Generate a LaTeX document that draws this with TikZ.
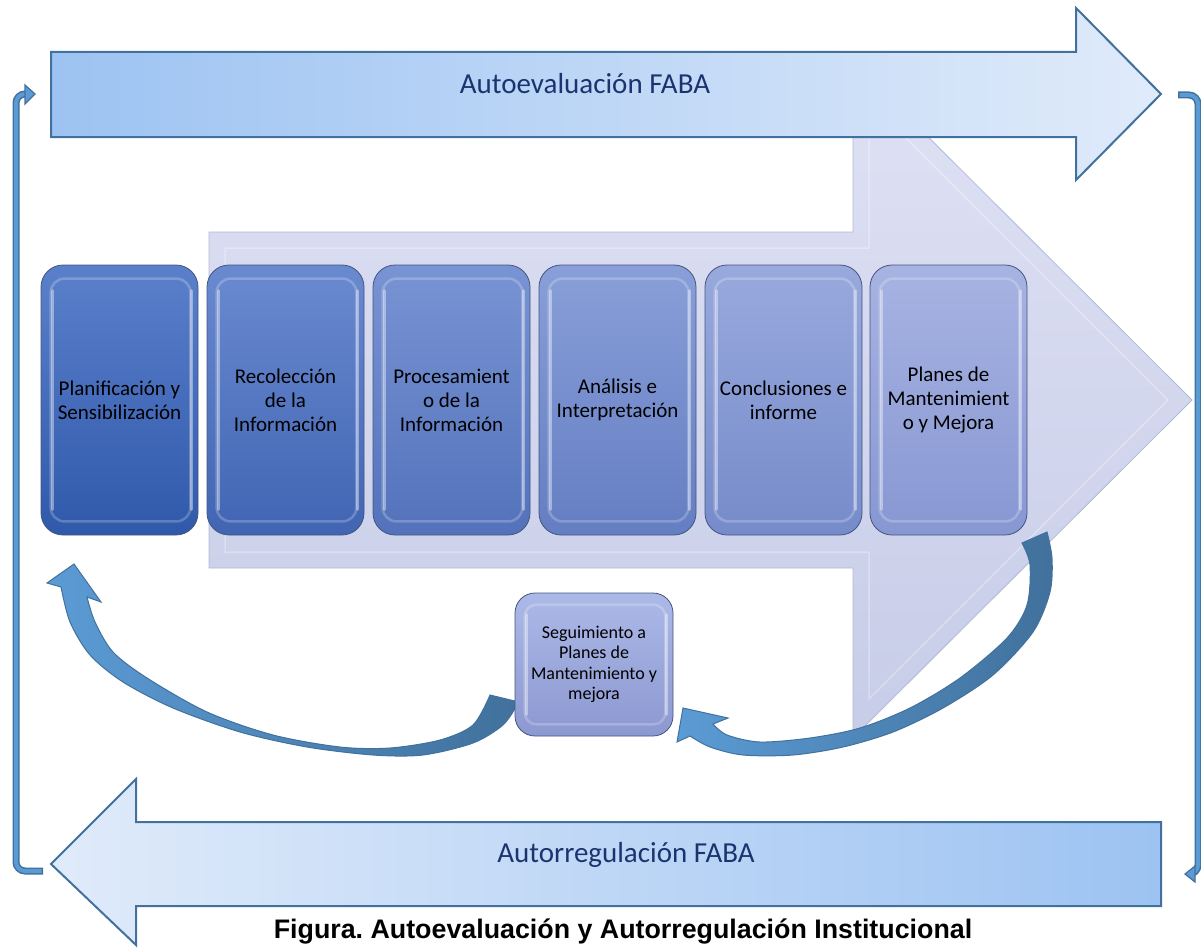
\documentclass[tikz,border=0pt]{standalone}
\usepackage{fontspec}
\setmainfont{Carlito}
\newfontfamily\capfont{Liberation Sans}
\usetikzlibrary{calc}
\definecolor{edgeblue}{HTML}{41719C}
\definecolor{midblue}{HTML}{5B9BD5}
\definecolor{navytxt}{HTML}{1B3470}
\definecolor{arrowdark}{HTML}{9DC3F2}
\definecolor{arrowlight}{HTML}{E0EBFA}
\definecolor{lavtop}{HTML}{DFE2F4}
\definecolor{lavbot}{HTML}{C7CCE8}
\definecolor{lavedge}{HTML}{B4B9D4}
\definecolor{boxedge}{HTML}{45557F}
\definecolor{btA}{RGB}{91,128,203}\definecolor{bbA}{RGB}{48,89,171}
\definecolor{btB}{RGB}{106,138,208}\definecolor{bbB}{RGB}{65,101,179}
\definecolor{btC}{RGB}{121,148,212}\definecolor{bbC}{RGB}{83,114,187}
\definecolor{btD}{RGB}{137,159,217}\definecolor{bbD}{RGB}{100,126,194}
\definecolor{btE}{RGB}{152,169,221}\definecolor{bbE}{RGB}{118,139,202}
\definecolor{btF}{RGB}{167,179,226}\definecolor{bbF}{RGB}{135,151,210}
\definecolor{segtop}{RGB}{172,185,232}\definecolor{segbot}{RGB}{140,152,208}
\tikzset{
  bigarrow/.style={draw=edgeblue, line width=2pt, line join=miter},
  procbox/.style={rounded corners=22pt, minimum width=157pt, minimum height=270pt,
    draw=boxedge, line width=0.8pt, align=flush center, text width=150pt, inner sep=0pt,
    font=\fontsize{21}{24}\selectfont},
  segbox/.style={rounded corners=20pt, minimum width=158pt, minimum height=143pt,
    draw=boxedge, line width=0.8pt, align=flush center, text width=150pt, inner sep=0pt,
    font=\fontsize{18}{20.5}\selectfont},
  gloss/.style={draw=white, draw opacity=0.22, line width=2.5pt, rounded corners=14pt},
  glossbar/.style={draw=white, draw opacity=0.4, line width=3pt, line cap=round},
  bracketout/.style={draw=edgeblue, line width=7pt, rounded corners=9pt},
  bracketin/.style={draw=midblue, line width=4pt, rounded corners=9pt},
  brackethead/.style={fill=midblue, draw=edgeblue, line width=1.2pt, line join=miter},
  curvarrow/.style={left color=midblue, right color=edgeblue, draw=edgeblue, line width=1pt},
  arrowlabel/.style={font=\fontsize{29}{34}\selectfont, text=navytxt, anchor=base, inner sep=0pt},
}
\begin{document}
\frenchspacing
\begin{tikzpicture}[x=1pt,y=-1pt]
\useasboundingbox (0,0) rectangle (1201,947);
% big process arrow
\path[top color=lavtop, bottom color=lavbot, draw=lavedge, line width=0.8pt]
  (209,232) -- (853,232) -- (853,62) -- (1192,400) -- (853,738) -- (853,568) -- (209,568) -- cycle;
\draw[white, opacity=0.3, line width=1.5pt]
  (225,248) -- (869,248) -- (869,101) -- (1168,400) -- (869,699) -- (869,552) -- (225,552) -- cycle;
% top arrow
\path[bigarrow, left color=arrowdark, right color=arrowlight]
  (51,52) -- (1076,52) -- (1076,8) -- (1161,94) -- (1076,180) -- (1076,137) -- (51,137) -- cycle;
% bottom arrow
\path[bigarrow, left color=arrowlight, right color=arrowdark]
  (1161,822) -- (136,822) -- (136,779) -- (51,864) -- (136,945) -- (136,906) -- (1161,906) -- cycle;
% brackets
\coordinate (lb0) at (43,871);
\coordinate (lb1) at (16,871);
\coordinate (lb2) at (16,94);
\coordinate (lb3) at (27,94);
\draw[bracketout] (lb0) -- (lb1) -- (lb2) -- (lb3);
\draw[bracketin] ([xshift=-1.5pt]lb0) -- (lb1) -- (lb2) -- (lb3);
\path[brackethead] (25,85) -- (35,94) -- (25,104) -- cycle;
\coordinate (rb0) at (1178,95);
\coordinate (rb1) at (1198,95);
\coordinate (rb2) at (1198,874);
\coordinate (rb3) at (1193,874);
\draw[bracketout] (rb0) -- (rb1) -- (rb2) -- (rb3);
\draw[bracketin] ([xshift=1.5pt]rb0) -- (rb1) -- (rb2) -- (rb3);
\path[brackethead] (1195,866) -- (1185,874) -- (1195,882) -- cycle;
% left curved arrow
\path[curvarrow] (61,587) -- (47,583) -- (74,564) -- (101,602) -- (87,597)
  -- plot[smooth] coordinates {(87,597) (95,622) (113,652) (147,678) (207,712) (273,735) (340,747) (390,748) (440,740) (473,725) (490,695)}
  -- (519,702)
  -- plot[smooth] coordinates {(517,705) (503,725) (473,743) (423,755) (373,755) (307,747) (240,732) (173,708) (123,682) (90,655) (70,622) (61,587)} -- cycle;
% right curved arrow
\path[curvarrow] (690,736) -- (677,742) -- (683,708) -- (728,718) -- (713,724)
  -- plot[smooth] coordinates {(713,724) (727,735) (760,742) (810,738) (860,728) (910,708) (960,678) (1007,638) (1027,605) (1030,565) (1022,543)}
  -- (1047,532)
  -- plot[smooth] coordinates {(1047,532) (1052,558) (1050,592) (1033,632) (993,675) (943,708) (893,732) (843,747) (793,755) (743,755) (710,747) (690,736)} -- cycle;
% process boxes
\node[procbox, top color=btA, bottom color=bbA] (b1) at (119.5,400) {Planificación y\\Sensibilización};
\node[procbox, top color=btB, bottom color=bbB] (b2) at (285.5,400) {Recolección\\de la\\Información};
\node[procbox, top color=btC, bottom color=bbC] (b3) at (451.5,400) {Procesamient\\o de la\\Información};
\node[procbox, top color=btD, bottom color=bbD] (b4) at (617.5,400) {Análisis e\\Interpretación};
\node[procbox, top color=btE, bottom color=bbE] (b5) at (783.5,400) {Conclusiones e\\informe};
\node[procbox, top color=btF, bottom color=bbF] (b6) at (948.5,400) {Planes de\\Mantenimient\\o y Mejora};
\node[segbox, top color=segtop, bottom color=segbot] (seg) at (594,664.5) {Seguimiento a\\Planes de\\Mantenimiento y\\mejora};
\foreach \n in {b1,b2,b3,b4,b5,b6}{
  \draw[gloss] ([shift={(10pt,-14pt)}]\n.north west) rectangle ([shift={(-8pt,14pt)}]\n.south east);
  \draw[glossbar] ([shift={(12pt,-26pt)}]\n.north west) -- ([shift={(12pt,26pt)}]\n.south west);
  \draw[glossbar] ([shift={(-7pt,-26pt)}]\n.north east) -- ([shift={(-7pt,26pt)}]\n.south east);
}
\draw[gloss, rounded corners=12pt] ([shift={(10pt,-12pt)}]seg.north west) rectangle ([shift={(-8pt,12pt)}]seg.south east);
\draw[glossbar] ([shift={(12pt,-22pt)}]seg.north west) -- ([shift={(12pt,22pt)}]seg.south west);
\draw[glossbar] ([shift={(-7pt,-22pt)}]seg.north east) -- ([shift={(-7pt,22pt)}]seg.south east);
% labels
\node[arrowlabel] (t1) at (585,94) {Autoevaluación FABA};
\node[arrowlabel] (t2) at (626,862) {Autorregulación FABA};
\node[font=\capfont\bfseries\fontsize{26.8}{30}\selectfont, anchor=base, inner sep=0pt] (cap) at (623,938)
  {Figura. Autoevaluación y Autorregulación Institucional};
\end{tikzpicture}
\end{document}
